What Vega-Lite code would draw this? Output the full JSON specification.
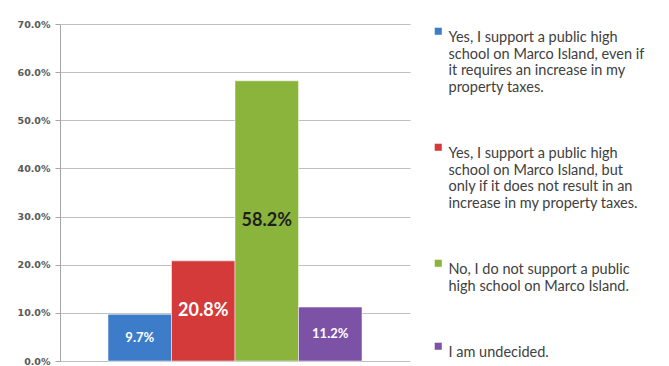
{
  "$schema": "https://vega.github.io/schema/vega-lite/v6.json",
  "width": 350,
  "height": 337,
  "autosize": {"type": "none"},
  "padding": {"left": 60, "top": 24, "right": 259, "bottom": 5},
  "background": "white",
  "config": {"view": {"stroke": null}},
  "data": {
    "values": [
      {"response": "Yes, I support a public high\nschool on Marco Island, even if\nit requires an increase in my\nproperty taxes.", "pct": 0.097},
      {"response": "Yes, I support a public high\nschool on Marco Island, but\nonly if it does not result in an\nincrease in my property taxes.", "pct": 0.208},
      {"response": "No, I do not support a public\nhigh school on Marco Island.", "pct": 0.582},
      {"response": "I am undecided.", "pct": 0.112}
    ]
  },
  "encoding": {
    "x": {
      "field": "response",
      "type": "nominal",
      "sort": null,
      "scale": {"paddingInner": 0, "paddingOuter": 0.756},
      "axis": null
    }
  },
  "layer": [
    {
      "mark": {"type": "bar", "stroke": "white", "strokeWidth": 0.5},
      "encoding": {
        "y": {
          "field": "pct",
          "type": "quantitative",
          "scale": {"domain": [0, 0.7]},
          "axis": {
            "values": [0, 0.1, 0.2, 0.3, 0.4, 0.5, 0.6, 0.7],
            "format": ".1%",
            "title": null,
            "labelFont": "DejaVu Sans",
            "labelFontWeight": "bold",
            "labelFontSize": 9.5,
            "labelColor": "#595959",
            "labelPadding": 5,
            "tickSize": 5,
            "tickColor": "#a6a6a6",
            "domainColor": "#a6a6a6",
            "gridColor": "#c0c0c0"
          }
        },
        "color": {
          "field": "response",
          "type": "nominal",
          "sort": null,
          "scale": {"range": ["#3d7cc9", "#d43a3a", "#8ab43c", "#7b52a6"]},
          "legend": {
            "title": null,
            "orient": "right",
            "offset": 21,
            "padding": 0,
            "symbolType": "square",
            "symbolSize": 50,
            "symbolStrokeWidth": 0,
            "labelFont": "Lato",
            "labelFontSize": 14.5,
            "labelColor": "#404040",
            "labelOffset": 3,
            "labelLimit": 400,
            "labelBaseline": "top",
            "labelExpr": "split(datum.label, '\\n')",
            "rowPadding": 45,
            "encode": {
              "labels": {"update": {"dy": {"value": -9}, "lineHeight": {"value": 18}}}
            }
          }
        }
      }
    },
    {
      "mark": {
        "type": "text",
        "font": "Lato",
        "fontWeight": "bold",
        "baseline": "middle",
        "dy": {"expr": "(scale('y', 0) - scale('y', datum.pct)) / 2"}
      },
      "encoding": {
        "y": {"field": "pct", "type": "quantitative"},
        "text": {"field": "pct", "type": "quantitative", "format": ".1%"},
        "size": {"condition": {"test": "datum.pct > 0.15", "value": 18}, "value": 13},
        "color": {"condition": {"test": "datum.pct > 0.5", "value": "#1f1f1f"}, "value": "white"}
      }
    }
  ]
}
